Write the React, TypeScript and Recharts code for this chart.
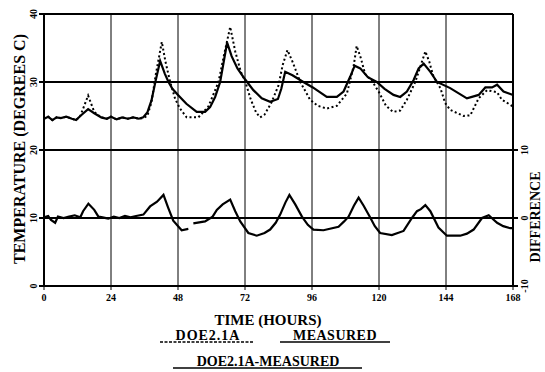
import React from 'react';
import { LineChart, Line, XAxis, YAxis, CartesianGrid } from 'recharts';

// hours since start
const hourTicks = [0, 24, 48, 72, 96, 120, 144, 168];
const tempTicks = [0, 10, 20, 30, 40];
const diffTicks = [-10, 0, 10];

const measHours = [0, 1.5, 3, 4.5, 6, 8, 10, 11.5, 13, 15.8, 18, 20.5, 22.5, 24, 26, 28, 30, 32, 34, 35.5, 37, 38.5, 40, 41.6, 43.3, 44.6, 46, 48, 51, 54.7, 57.7, 59.5, 61.3, 63.1, 65.6, 67.2, 69.3, 72, 75, 78, 81, 83.8, 85, 86.4, 89, 92.9, 96.3, 101.3, 104.9, 107.3, 109.7, 111.3, 113.3, 116, 119.2, 122, 125.2, 127.6, 130, 132.4, 134.2, 136, 138.4, 140.8, 145.5, 151.5, 155.7, 158.1, 160.5, 162.3, 164.6, 168];
const measTemp = [24.6, 24.9, 24.4, 24.8, 24.7, 24.9, 24.6, 24.4, 25.0, 26.0, 25.4, 24.8, 24.6, 24.9, 24.5, 24.8, 24.6, 24.8, 24.6, 24.8, 25.5, 27.3, 30.2, 33.1, 31.2, 30.0, 29.0, 28.1, 26.8, 25.6, 25.6, 26.3, 27.8, 30.0, 35.8, 33.8, 32.0, 30.4, 28.8, 27.6, 27.1, 27.5, 29.0, 31.5, 31.0, 30.0, 29.2, 27.8, 27.8, 28.6, 30.8, 32.4, 32.0, 30.7, 30.0, 29.0, 28.1, 27.8, 28.6, 30.3, 32.0, 32.7, 31.5, 30.0, 29.1, 27.6, 28.1, 29.2, 29.2, 29.6, 28.6, 28.1];

const doeHours = [0, 1.5, 3, 4.5, 6, 8, 10, 11.5, 13, 15.8, 18, 20.5, 22.5, 24, 26, 28, 30, 32, 34, 35.5, 37, 38.5, 40, 42.2, 43.5, 45.2, 47, 48.7, 51.1, 55.3, 58.9, 60.5, 62.5, 64.5, 66.7, 68.5, 70.5, 72, 74, 76, 77.4, 79, 81.5, 84, 85.5, 87.2, 89, 91.8, 95.3, 98, 101.3, 104.9, 108.5, 110.9, 112, 113.5, 115, 117.4, 120, 122.5, 125, 127.6, 130, 133, 135, 136.6, 138, 139.5, 142, 143.7, 145.5, 150.3, 152.7, 155.7, 158.7, 162.3, 164, 168];
const doeTemp = [24.6, 24.9, 24.4, 24.8, 24.7, 24.9, 24.6, 24.4, 25.0, 28.0, 25.6, 24.8, 24.6, 24.9, 24.5, 24.8, 24.6, 24.8, 24.6, 24.7, 25.0, 27.0, 31.0, 35.9, 33.0, 30.0, 27.5, 26.1, 24.8, 24.8, 26.4, 28.0, 30.0, 34.0, 38.1, 34.5, 31.5, 30.2, 27.5, 25.5, 24.8, 25.2, 27.0, 29.5, 32.5, 34.7, 33.0, 30.0, 27.4, 26.5, 26.1, 26.5, 28.3, 32.3, 35.3, 33.5, 31.2, 30.2, 28.5, 26.5, 25.6, 25.8, 27.4, 30.0, 32.5, 34.5, 33.0, 30.8, 29.1, 26.9, 25.9, 25.0, 25.1, 27.6, 28.8, 28.5, 27.4, 26.4];

const diffHours = [0, 1.5, 2.5, 4, 5, 7, 9, 11, 13, 14, 15.9, 18, 19.5, 21, 23, 25, 27, 29, 31, 33, 35.6, 38, 40.5, 42.8, 44.5, 46.3, 49.3, 51.7, 52.5, 53.5, 57.7, 60.4, 61.9, 64, 66.7, 68.5, 70.3, 73.2, 76.2, 79, 81, 83, 84.6, 86.5, 87.9, 90, 92.4, 94.5, 96.5, 100.1, 105.5, 107.5, 109.1, 111, 112.7, 114.5, 116.8, 118.5, 120.4, 124.6, 128.8, 131.8, 133.6, 135, 136.6, 138.4, 141.3, 144.3, 149.1, 151.5, 153.9, 156.9, 159.3, 162.3, 164.5, 167, 168];
const diffValues = [0.1, 0.3, -0.3, -0.7, 0.2, 0, 0.2, 0.4, 0.1, 1.0, 2.1, 1.2, 0.2, 0.1, -0.1, 0.2, 0, 0.3, 0.1, 0.3, 0.5, 1.7, 2.4, 3.4, 1.5, -0.4, -1.8, -1.6, null, -0.8, -0.5, 0.2, 1.2, 2.0, 2.7, 1.0, -0.5, -2.2, -2.6, -2.2, -1.7, -0.7, 0.5, 2.3, 3.4, 2.0, 0.2, -1.0, -1.7, -1.8, -1.3, -0.5, 0.2, 1.8, 3.0, 1.8, 0.1, -1.2, -2.2, -2.5, -1.9, 0, 1.0, 1.3, 1.9, 1.0, -1.4, -2.6, -2.6, -2.3, -1.7, 0, 0.4, -0.7, -1.2, -1.5, -1.5];

const toPoints = (hs: number[], vs: (number | null)[]) => hs.map((h, i) => ({ h, v: vs[i] }));

const measData = toPoints(measHours, measTemp);
const doeData = toPoints(doeHours, doeTemp);
const diffData = toPoints(diffHours, diffValues);

const font = '"Liberation Serif", "DejaVu Serif", serif';

const LeftTick = ({ x, y, payload }: any) => (
  <text x={x} y={y} transform={`rotate(-90, ${x}, ${y})`} textAnchor="middle"
    fontFamily={font} fontWeight="bold" fontSize={10} fill="#000">{payload.value}</text>
);

const RightTick = ({ x, y, payload }: any) => (
  <text x={x + 8} y={y} transform={`rotate(-90, ${x + 8}, ${y})`} textAnchor="middle"
    fontFamily={font} fontWeight="bold" fontSize={10} fill="#000">{payload.value}</text>
);

const BottomTick = ({ x, y, payload }: any) => (
  <text x={x} y={y + 9} textAnchor="middle" fontFamily={font} fontWeight="bold" fontSize={10} fill="#000">
    {payload.value}
  </text>
);

export default function App() {
  return (
    <div style={{ position: 'absolute', left: 0, top: 0, width: 545, height: 372, background: '#fff' }}>
      <LineChart width={545} height={372} margin={{ top: 14, right: 0, bottom: 66, left: 0 }}>
        <CartesianGrid yAxisId="left" vertical={false} stroke="#000" strokeWidth={2} />
        <CartesianGrid yAxisId="left" horizontal={false} stroke="#000" strokeWidth={1} />
        <XAxis dataKey="h" type="number" domain={[0, 168]} ticks={hourTicks} height={20}
          axisLine={{ stroke: '#000', strokeWidth: 2 }} tickLine={{ stroke: '#000' }} tickSize={4}
          tick={<BottomTick />} interval={0} />
        <YAxis yAxisId="left" domain={[0, 40]} ticks={tempTicks} width={44}
          axisLine={{ stroke: '#000', strokeWidth: 2 }} tickLine={{ stroke: '#000', strokeWidth: 2 }}
          tickSize={5} tick={<LeftTick />} interval={0} />
        <YAxis yAxisId="right" orientation="right" domain={[-10, 30]} ticks={diffTicks} width={32}
          axisLine={{ stroke: '#000', strokeWidth: 2 }} tickLine={{ stroke: '#000', strokeWidth: 2 }}
          tickSize={5} tick={<RightTick />} interval={0} />
        <Line yAxisId="left" data={doeData} dataKey="v" type="linear" stroke="#000" strokeWidth={2}
          strokeDasharray="2 2.5" dot={false} isAnimationActive={false} />
        <Line yAxisId="left" data={measData} dataKey="v" type="linear" stroke="#000" strokeWidth={2.2}
          dot={false} isAnimationActive={false} />
        <Line yAxisId="right" data={diffData} dataKey="v" type="linear" stroke="#000" strokeWidth={2.2}
          dot={false} isAnimationActive={false} />
      </LineChart>
      <svg width={545} height={372} style={{ position: 'absolute', left: 0, top: 0, pointerEvents: 'none' }}>
        <g fontFamily={font} fontWeight="bold" fill="#000">
          <text x={25} y={149} transform="rotate(-90, 25, 149)" textAnchor="middle" fontSize={16}>
            TEMPERATURE (DEGREES C)
          </text>
          <text x={540} y={217} transform="rotate(-90, 540, 217)" textAnchor="middle" fontSize={14}>
            DIFFERENCE
          </text>
          <text x={268} y={325} textAnchor="middle" fontSize={15}>TIME (HOURS)</text>
          <text x={208} y={340} textAnchor="middle" fontSize={14} letterSpacing={1}>DOE2.1A</text>
          <text x={335} y={340} textAnchor="middle" fontSize={14} letterSpacing={0.5}>MEASURED</text>
          <text x={268} y={366} textAnchor="middle" fontSize={14}>DOE2.1A-MEASURED</text>
        </g>
        <line x1={160} y1={342} x2={253} y2={342} stroke="#000" strokeWidth={1.5} strokeDasharray="3 1.5" />
        <line x1={280} y1={342} x2={390} y2={342} stroke="#000" strokeWidth={1.5} />
        <line x1={173} y1={368} x2={362} y2={368} stroke="#000" strokeWidth={1.5} />
      </svg>
    </div>
  );
}
